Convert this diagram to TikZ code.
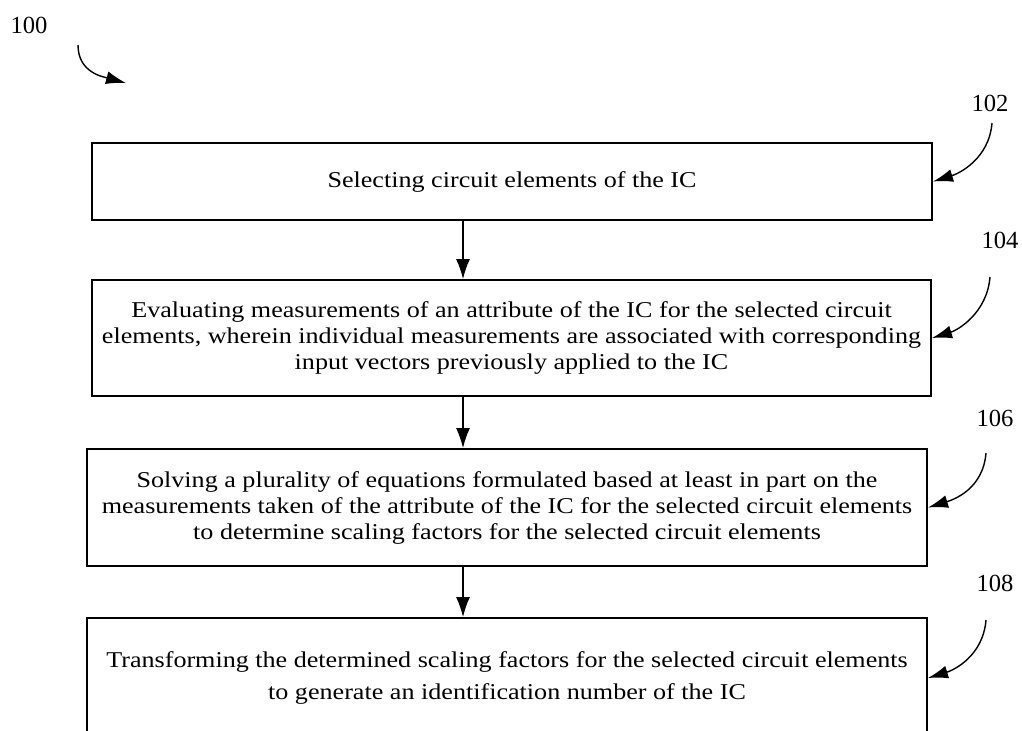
\documentclass[tikz,border=0pt]{standalone}
\usepackage{fontspec}
\setmainfont{Liberation Serif}
\newfontfamily\boxfont[FakeStretch=1.155]{Liberation Serif}
\usetikzlibrary{arrows.meta,positioning,calc}

\begin{document}
\begin{tikzpicture}[x=0.5pt,y=-0.5pt,
    box/.style={draw,line width=1pt,minimum width=420pt,inner sep=0pt,align=center,
      font=\boxfont\fontsize{11.3}{13}\selectfont},
    flow/.style={-{Latex[length=10pt,width=7pt]},line width=0.6pt},
    callout/.style={-{Latex[length=10pt,width=6.5pt]},line width=0.7pt},
    lbl/.style={font=\fontsize{12.3}{14}\selectfont,inner sep=0pt}]
      \useasboundingbox(0,0)rectangle(1022,730);
      \clip(0,0)rectangle(1022,730);
      % steps
      \node[box,minimum height=38.5pt](b1)at(512,181.5){Selecting circuit elements of the IC};
      \node[box,minimum height=58pt,minimum width=419.5pt](b2)at(511.5,338){Evaluating measurements of an attribute of the IC for the selected circuit\\
        elements, wherein individual measurements are associated with corresponding\\
        input vectors previously applied to the IC};
      \node[box,minimum height=58.5pt](b3)at(507,507.5){Solving a plurality of equations formulated based at least in part on the\\
        measurements taken of the attribute of the IC for the selected circuit elements\\
        to determine scaling factors for the selected circuit elements};
      \node[box,minimum height=60pt](b4)at(507,678){Transforming the determined scaling factors for the selected circuit elements\\[3pt]
        to generate an identification number of the IC};
      \coordinate(ax)at(463,0);
      \draw[flow](ax|-b1.south)--(ax|-b2.north);
      \draw[flow](ax|-b2.south)--(ax|-b3.north);
      \draw[flow](ax|-b3.south)--(ax|-b4.north);
      % reference numerals
      \node[lbl](l100)at(29,25){100};
      \coordinate(s100)at(78,45);
      \coordinate(t100)at(126,83);
      \draw[callout](s100)..controls +(0,28) and +(-22,-6)..(t100);
      \foreach \n/\b/\lx/\ly/\sx/\sy in{102/b1/990/103/992/123,104/b2/1000/240/990/277,
        106/b3/995/418/986/453,108/b4/995/583/986/620}{
        \node[lbl](l\n)at(\lx,\ly){\n};
        \coordinate(s\n)at(\sx,\sy);
        \draw[callout](s\n)..controls +(-3,36) and +(26,-8)..(\b.east);
      }
    \end{tikzpicture}
\end{document}
